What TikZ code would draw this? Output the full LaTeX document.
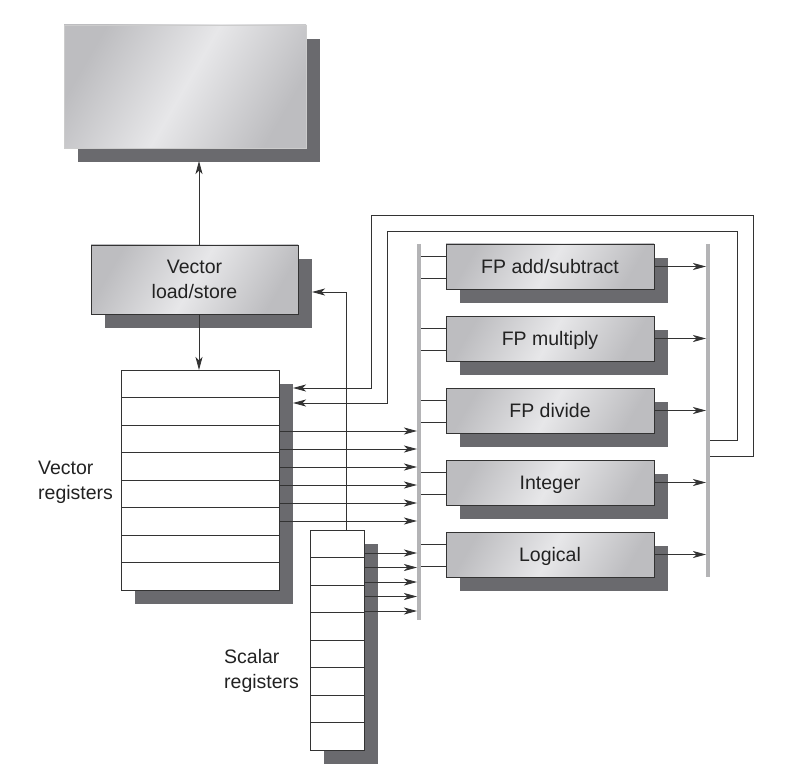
\documentclass[tikz,border=0pt]{standalone}
\usepackage{fontspec}
\setmainfont{Liberation Sans}
\usetikzlibrary{arrows.meta,shadows,calc}
\definecolor{shad}{HTML}{6A6A6E}
\definecolor{edgec}{HTML}{333333}
\definecolor{busc}{HTML}{B4B4B6}
\definecolor{ink}{HTML}{222222}
\definecolor{gdark}{HTML}{BDBDC0}
\definecolor{glight}{HTML}{E7E7E9}
\begin{document}
\begin{tikzpicture}[x=1pt,y=-1pt,
  font=\fontsize{19.5}{25}\selectfont, text=ink,
  boxshadow/.style={drop shadow={shadow xshift=14pt, shadow yshift=-14pt, fill=shad, opacity=1}},
  unitbox/.style={draw=edgec, line width=0.9pt, left color=gdark, right color=gdark, middle color=glight,
    shading angle=60, boxshadow, align=center, inner sep=0pt, outer sep=0pt},
  fpbox/.style={unitbox, minimum width=208pt, minimum height=45pt, text height=14pt, text depth=0pt},
  regbox/.style={draw=edgec, line width=0.9pt, fill=white, boxshadow, inner sep=0pt, outer sep=0pt},
  wire/.style={draw=edgec, line width=0.8pt},
  arr/.style={wire, -{Stealth[length=13pt,width=7pt,inset=3.5pt]}},
  bus/.style={draw=busc, line width=3.6pt}]
\useasboundingbox (0,0) rectangle (791,775);

% memory
\node[unitbox, draw=gray!40, line width=0.5pt, minimum width=242pt, minimum height=123pt] (mem) at (185,86.5) {};
% vector load/store
\node[unitbox, minimum width=207pt, minimum height=69pt] (ls) at (194.5,279.5) {Vector\\load/store};
% vector registers
\node[regbox, minimum width=158pt, minimum height=220pt] (vr) at (200,480) {};
\foreach \k in {1,...,7}
  \draw[wire] ($(vr.north west)+(0,27.5*\k)$) -- ($(vr.north east)+(0,27.5*\k)$);
% scalar registers
\node[regbox, minimum width=54pt, minimum height=220pt] (sr) at (337,640) {};
\foreach \k in {1,...,7}
  \draw[wire] ($(sr.north west)+(0,27.5*\k)$) -- ($(sr.north east)+(0,27.5*\k)$);

% labels
\node[anchor=west, align=left, inner sep=0pt] (vrlab) at (38,482) {Vector\\registers};
\node[anchor=west, align=left, inner sep=0pt] (srlab) at (224,670.5) {Scalar\\registers};

% functional units
\node[fpbox] (fa) at (550,266.5) {FP add/subtract};
\node[fpbox] (fm) at (550,338.5) {FP multiply};
\node[fpbox] (fd) at (550,410.5) {FP divide};
\node[fpbox] (fi) at (550,482.5) {Integer};
\node[fpbox] (fl) at (550,554.5) {Logical};

% buses
\coordinate (lbT) at (419,244); \coordinate (lbB) at (419,620);
\coordinate (rbT) at (708,244); \coordinate (rbB) at (708,577);
\coordinate (lbL) at (417,0);
\coordinate (rbL) at (706,0);
\coordinate (rbR) at (710,0);
\draw[bus] (lbT) -- (lbB);
\draw[bus] (rbT) -- (rbB);

% unit inputs and outputs
\foreach \n in {fa,fm,fd,fi,fl}{
  \draw[wire] ($(\n.west)+(0,-10.5)$) -- +(-25,0);
  \draw[wire] ($(\n.west)+(0,11.5)$) -- +(-25,0);
  \draw[arr] (\n.east) -- (rbL |- \n.east);
}

% vector register outputs
\foreach \y in {431,449,467,485,503,521}
  \draw[arr] (vr.east |- 0,\y) -- (lbL |- 0,\y);
% scalar register outputs
\foreach \y in {553,567.5,582,596.5,611}
  \draw[arr] (sr.east |- 0,\y) -- (lbL |- 0,\y);

% feedback to vector registers
\coordinate (vrsh) at ($(vr.east)+(14,0)$);
\draw[arr] (rbR |- 0,456) -| (753,215) -| (371,388) -- (vrsh |- 0,388);
\draw[arr] (rbR |- 0,440) -| (737,231) -| (387,403) -- (vrsh |- 0,403);

% scalar to load/store
\coordinate (lssh) at ($(ls.east)+(14,0)$);
\draw[arr] (sr.north -| 346,0) -- (346,292) -- (lssh |- 0,292);

% load/store to memory and registers
\coordinate (memsh) at ($(mem.south)+(0,13)$);
\draw[arr] (ls.north -| 199,0) -- (memsh -| 199,0);
\draw[arr] (ls.south -| 199,0) -- (vr.north -| 199,0);
\end{tikzpicture}
\end{document}
